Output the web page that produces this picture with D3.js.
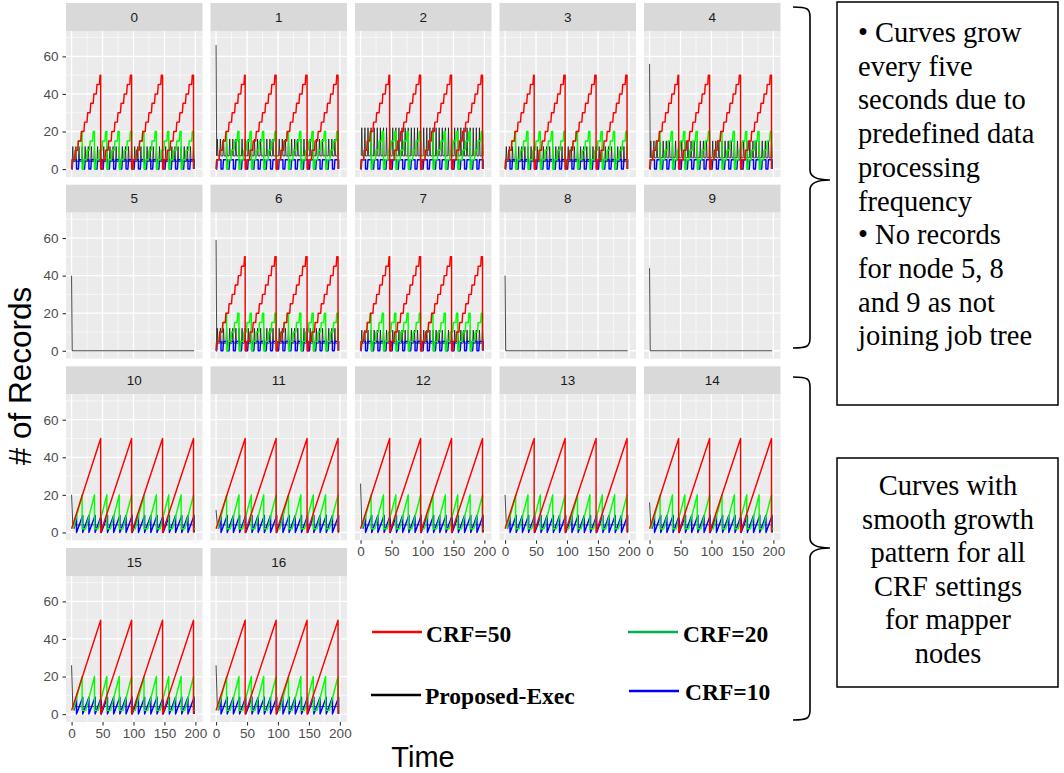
<!DOCTYPE html>
<html>
<head>
<meta charset="utf-8">
<script src="https://cdn.jsdelivr.net/npm/d3@7"></script>
<style>
  body { margin: 0; background: #fff; }
  svg { display: block; }
</style>
</head>
<body>
<svg id="viz"></svg>
<script>
// global vars
var width = 1064;
var height = 773;

// facet labels (node ids)
var nodes = ['0', '1', '2', '3', '4', '5', '6', '7', '8', '9', '10', '11', '12', '13', '14', '15', '16'];
// how each node behaves in the figure
var nodePattern = ['step', 'step', 'step', 'step', 'step', 'idle', 'step', 'step', 'idle', 'idle',
  'smooth', 'smooth', 'smooth', 'smooth', 'smooth', 'smooth', 'smooth'];

// Proposed-Exec: spike at t=0, then band it moves in
var execSpike = [0, 66, 0, 0, 56, 40, 59, 0, 40, 44, 20, 12, 26, 20, 16, 26, 26];
var execLow = [4, 7, 7, 4, 6, 0, 4, 4, 0, 0, 4, 4, 4, 4, 4, 4, 4];
var execHigh = [12, 16, 22, 12, 15, 0, 12, 11, 0, 0, 4, 4, 4, 4, 4, 4, 4];
var execBeats = [2, 7, 12, 17, 22, 27, 32, 37, 42, 47, 52, 57, 62, 67, 72, 77, 82, 87, 92, 97,
  102, 107, 112, 117, 122, 127, 132, 137, 142, 147, 152, 157, 162, 167, 172, 177, 182, 187, 192, 197];

// CRF=50
var redResets = [47, 97, 147, 197];
var redCycleStarts = [0, 49, 99, 149];
var redStepOffsets = [0, 5, 10, 15, 20, 25, 30, 35, 40, 45];
var redStepLevels = [5, 10, 15, 20, 25, 30, 35, 40, 45, 50];

// CRF=20
var greenResets = [17, 37, 57, 77, 97, 117, 137, 157, 177, 197];
var greenCycleStarts = [0, 19, 39, 59, 79, 99, 119, 139, 159, 179];
var greenRiseStarts = [3, 23, 43, 63, 83, 103, 123, 143, 163, 183];
var greenStepOffsets = [0, 5, 10, 15];
var greenStepLevels = [5, 10, 15, 20];

// CRF=10
var blueResets = [8, 18, 28, 38, 48, 58, 68, 78, 88, 98, 108, 118, 128, 138, 148, 158, 168, 178, 188, 198];
var blueCycleStarts = [0, 10, 20, 30, 40, 50, 60, 70, 80, 90, 100, 110, 120, 130, 140, 150, 160, 170, 180, 190];
var blueStepOffsets = [1];
var blueStepLevels = [5];

var xTicks = [0, 50, 100, 150, 200];
var xMinor = [25, 75, 125, 175];
var yTicks = [0, 20, 40, 60];
var yMinor = [10, 30, 50, 70];

var seriesNames = ['CRF=10', 'CRF=20', 'CRF=50', 'Proposed-Exec'];
var seriesColors = ['#0000FF', '#00FF00', '#FF0000', '#000000'];
var legendColors = ['#0000FF', '#00B050', '#FF0000', '#000000'];

var note1 = ['\u2022 Curves grow', 'every five', 'seconds due to', 'predefined data', 'processing',
  'frequency', '\u2022 No records', 'for node 5, 8', 'and 9 as not', 'joining job tree'];
var note2 = ['Curves with', 'smooth growth', 'pattern for all', 'CRF settings', 'for mapper', 'nodes'];

// ---------- series builders ----------
function stepSeries(starts, resets, offsets, levels, top) {
  var pts = [];
  starts.forEach(function (s, i) {
    var prev = 0;
    pts.push([s, prev]);
    offsets.forEach(function (o, k) {
      pts.push([s + o, prev]);
      pts.push([s + o + 1, levels[k]]);
      prev = levels[k];
    });
    pts.push([resets[i], top]);
    pts.push([resets[i], 0]);
  });
  return pts;
}

function sawSeries(first, riseStarts, resets, top, base) {
  var pts = [first];
  resets.forEach(function (r, i) {
    if (riseStarts) pts.push([riseStarts[i], base]);
    pts.push([r, top]);
    pts.push([r, base]);
  });
  return pts;
}

function execSeries(i) {
  var pts = [];
  if (execSpike[i] > 0) pts.push([0, execSpike[i]]);
  if (nodePattern[i] == 'idle') {
    pts.push([1, 0]);
    pts.push([198, 0]);
  } else if (nodePattern[i] == 'smooth') {
    pts.push([2, execLow[i]]);
    pts.push([199, execLow[i]]);
  } else {
    pts.push([1, execLow[i]]);
    execBeats.forEach(function (b) {
      pts.push([b - 1, execLow[i]]);
      pts.push([b, execHigh[i]]);
      pts.push([b + 1, execLow[i]]);
    });
  }
  return pts;
}

// returns series in draw order: exec, blue, green, red
function panelSeries(i) {
  var p = nodePattern[i];
  if (p == 'idle') return [{ k: 3, pts: execSeries(i) }];
  if (p == 'step') {
    return [
      { k: 3, pts: execSeries(i) },
      { k: 0, pts: stepSeries(blueCycleStarts, blueResets, blueStepOffsets, blueStepLevels, 5) },
      { k: 1, pts: stepSeries(greenCycleStarts, greenResets, greenStepOffsets, greenStepLevels, 20) },
      { k: 2, pts: stepSeries(redCycleStarts, redResets, redStepOffsets, redStepLevels, 50) }
    ];
  }
  var green = sawSeries([3, 2], greenRiseStarts, greenResets, 20, 2);
  green.push([200, 2]);
  return [
    { k: 3, pts: execSeries(i) },
    { k: 0, pts: sawSeries([4, 2], null, blueResets, 9, 0) },
    { k: 1, pts: green },
    { k: 2, pts: sawSeries([0, 2], null, redResets, 50, 0) }
  ];
}

// ---------- layout ----------
var svg = d3.select('#viz').attr('width', width).attr('height', height);
svg.append('rect').attr('width', width).attr('height', height).attr('fill', '#fff');

var colBand = d3.scaleBand().domain(d3.range(5)).range([66, 780.5]).paddingInner(8 / 144.5);
var rowBand = d3.scaleBand().domain(d3.range(4)).range([3, 722]).paddingInner(7.7 / 181.7);
var stripH = 28;
var plotH = rowBand.bandwidth() - stripH;
var plotW = colBand.bandwidth();

var x = d3.scaleLinear().domain([-9, 211.5]).range([0, plotW]);
var y = d3.scaleLinear().domain([-4.2, 73.5]).range([plotH, 0]);

var line = d3.line()
  .x(function (d) { return x(d[0]); })
  .y(function (d) { return y(d[1]); });

var sans = 'Liberation Sans, Arial, sans-serif';
var serif = 'Liberation Serif, Times New Roman, serif';

nodes.forEach(function (name, i) {
  var col = i % 5;
  var row = Math.floor(i / 5);
  var left = colBand(col);
  var top = rowBand(row);

  var g = svg.append('g').attr('transform', 'translate(' + left + ',' + top + ')');

  // strip
  g.append('rect').attr('width', plotW).attr('height', stripH).attr('fill', '#D9D9D9');
  g.append('text')
    .attr('x', plotW / 2)
    .attr('y', stripH / 2)
    .attr('text-anchor', 'middle')
    .attr('dominant-baseline', 'central')
    .style('font-family', sans)
    .style('font-size', '13.5px')
    .attr('fill', '#1A1A1A')
    .text(name);

  var p = g.append('g').attr('transform', 'translate(0,' + stripH + ')');
  p.append('rect').attr('width', plotW).attr('height', plotH).attr('fill', '#EBEBEB');

  // grid
  p.selectAll('.ymin').data(yMinor).join('line')
    .attr('x1', 0).attr('x2', plotW)
    .attr('y1', function (d) { return y(d); }).attr('y2', function (d) { return y(d); })
    .attr('stroke', '#fff').attr('stroke-width', 0.6);
  p.selectAll('.xmin').data(xMinor).join('line')
    .attr('y1', 0).attr('y2', plotH)
    .attr('x1', function (d) { return x(d); }).attr('x2', function (d) { return x(d); })
    .attr('stroke', '#fff').attr('stroke-width', 0.6);
  p.selectAll('.ymaj').data(yTicks).join('line')
    .attr('x1', 0).attr('x2', plotW)
    .attr('y1', function (d) { return y(d); }).attr('y2', function (d) { return y(d); })
    .attr('stroke', '#fff').attr('stroke-width', 1.3);
  p.selectAll('.xmaj').data(xTicks).join('line')
    .attr('y1', 0).attr('y2', plotH)
    .attr('x1', function (d) { return x(d); }).attr('x2', function (d) { return x(d); })
    .attr('stroke', '#fff').attr('stroke-width', 1.3);

  // series
  var clipId = 'clip' + i;
  p.append('clipPath').attr('id', clipId)
    .append('rect').attr('width', plotW).attr('height', plotH);

  var data = panelSeries(i);
  p.append('g').attr('clip-path', 'url(#' + clipId + ')')
    .selectAll('path')
    .data(data)
    .join('path')
    .attr('d', function (d) { return line(d.pts); })
    .attr('fill', 'none')
    .attr('stroke', function (d) { return d.k == 3 ? '#1a1a1a' : seriesColors[d.k]; })
    .attr('stroke-width', function (d) { return d.k == 3 ? 0.8 : 1.45; })
    .attr('stroke-linejoin', 'round');

  // y axis on first column
  if (col == 0) {
    var ya = p.append('g').call(d3.axisLeft(y).tickValues(yTicks).tickSize(3.5).tickPadding(4));
    ya.select('.domain').remove();
    ya.selectAll('line').attr('stroke', '#333').attr('stroke-width', 1.1);
    ya.selectAll('text').style('font-family', sans).style('font-size', '13.5px').attr('fill', '#4D4D4D');
  }

  // x axis where no panel sits below
  if (i + 5 >= nodes.length) {
    var xa = p.append('g')
      .attr('transform', 'translate(0,' + plotH + ')')
      .call(d3.axisBottom(x).tickValues(xTicks).tickSize(3.5).tickPadding(3));
    xa.select('.domain').remove();
    xa.selectAll('line').attr('stroke', '#333').attr('stroke-width', 1.1);
    xa.selectAll('text').style('font-family', sans).style('font-size', '13.5px').attr('fill', '#4D4D4D');
  }
});

// axis titles
svg.append('text')
  .attr('transform', 'translate(31,376) rotate(-90)')
  .attr('text-anchor', 'middle')
  .style('font-family', sans)
  .style('font-size', '31.5px')
  .attr('fill', '#000')
  .text('# of Records');

svg.append('text')
  .attr('x', 423)
  .attr('y', 767)
  .attr('text-anchor', 'middle')
  .style('font-family', sans)
  .style('font-size', '29px')
  .attr('fill', '#000')
  .text('Time');

// legend (placed in empty facet area)
var legendSpots = [[629, 691, 685, 700], [628, 632, 683, 641.5], [372, 632, 426, 641.5], [371, 695, 425, 703.5]];
seriesNames.forEach(function (n, k) {
  var s = legendSpots[k];
  svg.append('line')
    .attr('x1', s[0]).attr('x2', s[0] + 50)
    .attr('y1', s[1]).attr('y2', s[1])
    .attr('stroke', legendColors[k]).attr('stroke-width', 2.5);
  svg.append('text')
    .attr('x', s[2]).attr('y', s[3])
    .style('font-family', serif)
    .style('font-weight', 'bold')
    .style('font-size', '23.5px')
    .attr('fill', '#000')
    .text(n);
});

// braces and notes
function bracePath(x0, y0, y1, tipX, tipY) {
  var xv = x0 + 17;
  return 'M' + x0 + ',' + y0 +
    ' C' + (xv - 2) + ',' + y0 + ' ' + xv + ',' + (y0 + 2) + ' ' + xv + ',' + (y0 + 10) +
    ' L' + xv + ',' + (tipY - 10) +
    ' C' + xv + ',' + (tipY - 2) + ' ' + (tipX - 10) + ',' + tipY + ' ' + tipX + ',' + tipY +
    ' C' + (tipX - 10) + ',' + tipY + ' ' + xv + ',' + (tipY + 2) + ' ' + xv + ',' + (tipY + 10) +
    ' L' + xv + ',' + (y1 - 10) +
    ' C' + xv + ',' + (y1 - 2) + ' ' + (xv - 2) + ',' + y1 + ' ' + x0 + ',' + y1;
}

svg.append('path').attr('d', bracePath(793, 7, 348, 830, 180))
  .attr('fill', 'none').attr('stroke', '#000').attr('stroke-width', 1.6);
svg.append('path').attr('d', bracePath(793, 377, 720, 830, 548))
  .attr('fill', 'none').attr('stroke', '#000').attr('stroke-width', 1.6);

svg.append('rect').attr('x', 837).attr('y', 2).attr('width', 221).attr('height', 403)
  .attr('fill', '#fff').attr('stroke', '#000').attr('stroke-width', 1.5);
svg.append('rect').attr('x', 837).attr('y', 458).attr('width', 221).attr('height', 229)
  .attr('fill', '#fff').attr('stroke', '#000').attr('stroke-width', 1.5);

svg.append('g').selectAll('text').data(note1).join('text')
  .attr('x', 858)
  .attr('y', function (d, k) { return 42 + k * 33.7; })
  .style('font-family', serif)
  .style('font-size', '28.5px')
  .attr('fill', '#000')
  .text(function (d) { return d; });

svg.append('g').selectAll('text').data(note2).join('text')
  .attr('x', 948)
  .attr('y', function (d, k) { return 495 + k * 33.6; })
  .attr('text-anchor', 'middle')
  .style('font-family', serif)
  .style('font-size', '28.5px')
  .attr('fill', '#000')
  .text(function (d) { return d; });
</script>
</body>
</html>
